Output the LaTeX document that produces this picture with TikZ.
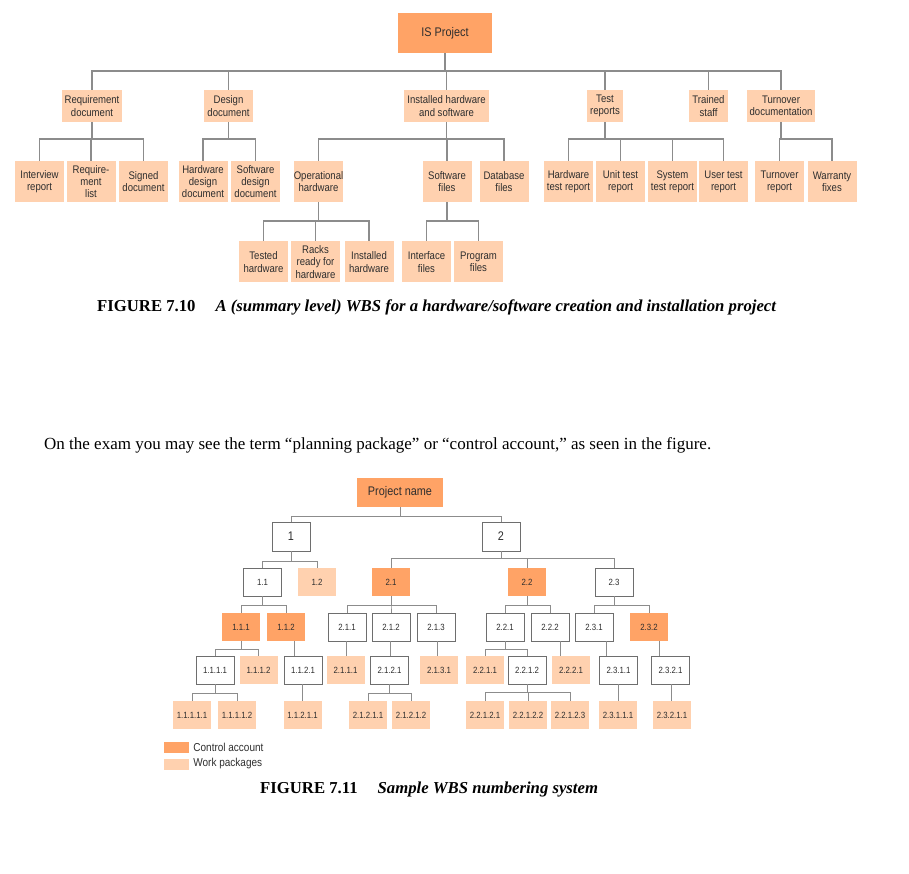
\documentclass[tikz,border=0pt]{standalone}
\usepackage{fontspec}
\setmainfont{Liberation Serif}
\newfontfamily\wbsfont[FakeStretch=0.87]{Liberation Sans}
\usetikzlibrary{positioning, calc}
\definecolor{ctrlacct}{HTML}{FFA366}
\definecolor{workpkg}{HTML}{FFD1AF}
\definecolor{linegray}{HTML}{8C8C8C}
\definecolor{boxgray}{HTML}{6E6E6E}
\definecolor{textgray}{HTML}{2E2E2E}
\tikzset{
    wbs/.style={rectangle, inner sep=0pt, align=center, text=textgray, font=\wbsfont\fontsize{11}{12.2}\selectfont},
    rootbox/.style={wbs, fill=ctrlacct, minimum width=94pt, minimum height=40pt, font=\wbsfont\fontsize{12.5}{14}\selectfont},
    sumbox/.style={wbs, fill=workpkg, inner xsep=3pt, minimum height=32pt},
    leafbox/.style={wbs, fill=workpkg, minimum width=49pt, minimum height=41pt},
    link/.style={draw=linegray, line width=1.2pt},
    num/.style={rectangle, inner sep=0pt, minimum width=38pt, minimum height=28pt, text=textgray, font=\wbsfont\fontsize{9}{10}\selectfont},
    bignum/.style={num, draw=boxgray, fill=white, line width=0.9pt, minimum height=29pt, font=\wbsfont\fontsize{12.5}{14}\selectfont},
    plainbox/.style={num, draw=boxgray, fill=white, line width=0.9pt},
    ctrlbox/.style={num, fill=ctrlacct},
    pkgbox/.style={num, fill=workpkg},
    thinlink/.style={draw=linegray, line width=0.9pt},
    swatch/.style={rectangle, inner sep=0pt, minimum width=25pt, minimum height=11pt},
    keytext/.style={text=textgray, inner sep=0pt, font=\wbsfont\fontsize{11.5}{13}\selectfont},
    caption/.style={anchor=west, inner sep=0pt, font=\fontsize{16.7}{20}\selectfont}
}

\begin{document}
\begin{tikzpicture}[x=1pt, y=-1pt]
    \useasboundingbox (0,0) rectangle (909,874);

    % --- Figure 7.10: summary level WBS ---
    \node (isp) [rootbox] at (445,33) {IS Project};

    \node (reqdoc) [sumbox] at (92,106) {Requirement\\document};
    \node (desdoc) [sumbox] at (228.5,106) {Design\\document};
    \node (insthw) [sumbox] at (446.5,106) {Installed hardware\\and software};
    \node (testrep) [sumbox] at (605,106) {Test\\reports};
    \node (trained) [sumbox] at (708.5,106) {Trained\\staff};
    \node (turnover) [sumbox] at (781,106) {Turnover\\documentation};

    \node (intrep) [leafbox] at (39.5,181.5) {Interview\\report};
    \node (reqlist) [leafbox] at (91,181.5) {Require-\\ment\\list};
    \node (signed) [leafbox] at (143.5,181.5) {Signed\\document};
    \node (hwdes) [leafbox] at (203,181.5) {Hardware\\design\\document};
    \node (swdes) [leafbox] at (255.5,181.5) {Software\\design\\document};
    \node (ophw) [leafbox] at (318.5,181.5) {Operational\\hardware};
    \node (swfiles) [leafbox] at (447,181.5) {Software\\files};
    \node (dbfiles) [leafbox] at (504,181.5) {Database\\files};
    \node (hwtest) [leafbox] at (568.5,181.5) {Hardware\\test report};
    \node (unittest) [leafbox] at (620.5,181.5) {Unit test\\report};
    \node (systest) [leafbox] at (672.5,181.5) {System\\test report};
    \node (usertest) [leafbox] at (723.5,181.5) {User test\\report};
    \node (turnrep) [leafbox] at (779.5,181.5) {Turnover\\report};
    \node (warranty) [leafbox] at (832,181.5) {Warranty\\fixes};

    \node (testedhw) [leafbox] at (263.5,262) {Tested\\hardware};
    \node (racks) [leafbox] at (315.5,262) {Racks\\ready for\\hardware};
    \node (instdhw) [leafbox] at (369,262) {Installed\\hardware};
    \node (intfiles) [leafbox] at (426.5,262) {Interface\\files};
    \node (progfiles) [leafbox] at (478.5,262) {Program\\files};

    \coordinate (barA) at (0,71);
    \coordinate (barB) at (0,139);
    \coordinate (barC) at (0,221);
    \foreach \c in {reqdoc,desdoc,insthw,testrep,trained,turnover}
        \draw [link] (isp.south) |- (\c.north |- barA) -- (\c.north);
    \foreach \p/\c in {reqdoc/intrep, reqdoc/reqlist, reqdoc/signed,
                       desdoc/hwdes, desdoc/swdes,
                       insthw/ophw, insthw/swfiles, insthw/dbfiles,
                       testrep/hwtest, testrep/unittest, testrep/systest, testrep/usertest,
                       turnover/turnrep, turnover/warranty}
        \draw [link] (\p.south) |- (\c.north |- barB) -- (\c.north);
    \foreach \p/\c in {ophw/testedhw, ophw/racks, ophw/instdhw,
                       swfiles/intfiles, swfiles/progfiles}
        \draw [link] (\p.south) |- (\c.north |- barC) -- (\c.north);

    \node (cap710) [caption] at (97,307) {\textbf{FIGURE 7.10}\hspace{20pt}\textbf{\textit{A (summary level) WBS for a hardware/software creation and installation project}}};

    % --- Text between the figures ---
    \node (note) [anchor=west, inner sep=0pt, font=\fontsize{17}{20}\selectfont] at (44,445) {On the exam you may see the term “planning package” or “control account,” as seen in the figure.};

    % --- Figure 7.11: WBS numbering ---
    \node (pn) [rootbox, minimum width=86pt, minimum height=29pt] at (400,492.5) {Project name};
    \node (w1) [bignum] at (291,536.5) {1};
    \node (w2) [bignum] at (501,536.5) {2};

    \node (w11) [plainbox] at (262.5,582) {1.1};
    \node (w12) [pkgbox] at (317,582) {1.2};
    \node (w21) [ctrlbox] at (391,582) {2.1};
    \node (w22) [ctrlbox] at (527,582) {2.2};
    \node (w23) [plainbox] at (614,582) {2.3};

    \node (w111) [ctrlbox] at (241,627) {1.1.1};
    \node (w112) [ctrlbox] at (286,627) {1.1.2};
    \node (w211) [plainbox] at (347,627) {2.1.1};
    \node (w212) [plainbox] at (391,627) {2.1.2};
    \node (w213) [plainbox] at (436,627) {2.1.3};
    \node (w221) [plainbox] at (505,627) {2.2.1};
    \node (w222) [plainbox] at (550,627) {2.2.2};
    \node (w231) [plainbox] at (594,627) {2.3.1};
    \node (w232) [ctrlbox] at (649,627) {2.3.2};

    \node (w1111) [plainbox] at (215,670) {1.1.1.1};
    \node (w1112) [pkgbox] at (258.5,670) {1.1.1.2};
    \node (w1121) [plainbox] at (303,670) {1.1.2.1};
    \node (w2111) [pkgbox] at (345.5,670) {2.1.1.1};
    \node (w2121) [plainbox] at (389.5,670) {2.1.2.1};
    \node (w2131) [pkgbox] at (439,670) {2.1.3.1};
    \node (w2211) [pkgbox] at (485,670) {2.2.1.1};
    \node (w2212) [plainbox] at (527,670) {2.2.1.2};
    \node (w2221) [pkgbox] at (571,670) {2.2.2.1};
    \node (w2311) [plainbox] at (618.5,670) {2.3.1.1};
    \node (w2321) [plainbox] at (670.5,670) {2.3.2.1};

    \node (w11111) [pkgbox] at (192,715) {1.1.1.1.1};
    \node (w11112) [pkgbox] at (237,715) {1.1.1.1.2};
    \node (w11211) [pkgbox] at (302.5,715) {1.1.2.1.1};
    \node (w21211) [pkgbox] at (368,715) {2.1.2.1.1};
    \node (w21212) [pkgbox] at (411,715) {2.1.2.1.2};
    \node (w22121) [pkgbox] at (485,715) {2.2.1.2.1};
    \node (w22122) [pkgbox] at (528,715) {2.2.1.2.2};
    \node (w22123) [pkgbox] at (570,715) {2.2.1.2.3};
    \node (w23111) [pkgbox] at (618,715) {2.3.1.1.1};
    \node (w23211) [pkgbox] at (672,715) {2.3.2.1.1};

    % branching connectors
    \foreach \p/\c/\y in {pn/w1/516, pn/w2/516,
                          w1/w11/561, w1/w12/561,
                          w2/w21/558, w2/w22/558, w2/w23/558,
                          w11/w111/605, w11/w112/605,
                          w21/w211/605, w21/w212/605, w21/w213/605,
                          w22/w221/605, w22/w222/605,
                          w23/w231/605, w23/w232/605,
                          w111/w1111/649, w111/w1112/649,
                          w221/w2211/649, w221/w2212/649,
                          w1111/w11111/693, w1111/w11112/693,
                          w2121/w21211/693, w2121/w21212/693,
                          w2212/w22121/692, w2212/w22122/692, w2212/w22123/692}
        \draw [thinlink] (\p.south) |- (\c.north |- 0,\y) -- (\c.north);
    % single child connectors
    \foreach \p/\c in {w112/w1121, w211/w2111, w212/w2121, w213/w2131,
                       w222/w2221, w231/w2311, w232/w2321,
                       w1121/w11211, w2311/w23111, w2321/w23211} {
        \path ($(\p.south)!0.5!(\c.north)$) coordinate (mid);
        \draw [thinlink] (mid |- \p.south) -- (mid |- \c.north);
    }

    % legend
    \node (cakey) [swatch, fill=ctrlacct] at (176.5,747.5) {};
    \node (catext) [keytext, right=4pt of cakey] {Control account};
    \node (wpkey) [swatch, fill=workpkg] at (176.5,764) {};
    \node (wptext) [keytext, right=4pt of wpkey] {Work packages};

    \node (cap711) [caption] at (260,789) {\textbf{FIGURE 7.11}\hspace{20pt}\textbf{\textit{Sample WBS numbering system}}};
\end{tikzpicture}
\end{document}
